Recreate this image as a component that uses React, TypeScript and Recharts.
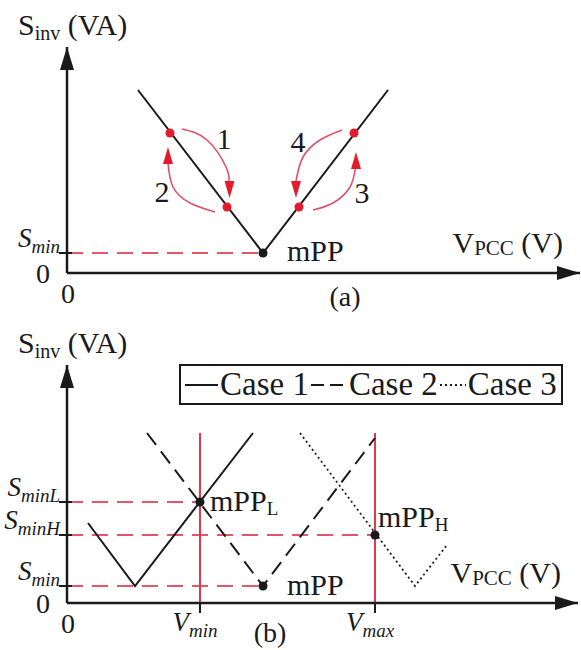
import React from 'react'
import { ComposedChart, Line, Scatter, XAxis, YAxis, Legend } from 'recharts'

const FONT = '"Liberation Serif", "DejaVu Serif", "Noto Serif", "Times New Roman", serif'
const INK = '#1a1a1a'
const RED = '#e31b2c'
const RED_LINE = '#e3384c'
const RED_DASH = '#e4566a'
const RED_ARC = '#e0506a'

// ---------- panel (a) ----------
const xMaxA = 51.3
const yMaxA = 22.6
const sMinA = 2.0
const curveA = [
  { x: 7.1, y: 18.3 },
  { x: 19.6, y: 2.0 },
  { x: 32.1, y: 18.3 },
]
const sMinLineA = [
  { x: 0, y: 2.0 },
  { x: 19.6, y: 2.0 },
]
const mppA = [{ x: 19.6, y: 2.0 }]
const stepPointsA = [
  { x: 10.3, y: 14.0 },
  { x: 16.0, y: 6.6 },
  { x: 23.2, y: 6.6 },
  { x: 28.7, y: 14.0 },
]
const arc1 = [
  { x: 11.5, y: 14.4 },
  { x: 14.0, y: 13.3 },
  { x: 15.9, y: 10.6 },
  { x: 16.2, y: 9.2 },
]
const arc2 = [
  { x: 14.8, y: 6.1 },
  { x: 12.3, y: 7.0 },
  { x: 10.6, y: 8.6 },
  { x: 10.1, y: 11.0 },
]
const arc3 = [
  { x: 24.6, y: 6.3 },
  { x: 26.6, y: 7.0 },
  { x: 28.3, y: 8.6 },
  { x: 28.85, y: 10.6 },
]
const arc4 = [
  { x: 27.5, y: 14.3 },
  { x: 25.3, y: 13.3 },
  { x: 23.6, y: 11.6 },
  { x: 22.9, y: 9.2 },
]
const arcTipsA = [
  { x: 16.25, y: 7.5, dir: 'down' },
  { x: 10.1, y: 12.6, dir: 'up' },
  { x: 28.9, y: 12.1, dir: 'up' },
  { x: 22.9, y: 7.5, dir: 'down' },
]
const stepLabelsA = [
  { x: 15.7, y: 12.4, text: '1' },
  { x: 9.5, y: 7.1, text: '2' },
  { x: 29.5, y: 7.0, text: '3' },
  { x: 23.1, y: 12.1, text: '4' },
]
const pointLabelsA = [{ x: 22.0, y: 1.2, text: 'mPP', sub: '' }]
const yTicksA = [0, sMinA]
const yTickSubsA = ['', 'min']
const xTicksA = [0]
const xTickSubsA = ['']

// ---------- panel (b) ----------
const xMaxB = 51.1
const yMaxB = 23.8
const sMinB = 1.7
const sMinH = 6.8
const sMinL = 10.1
const vMin = 13.3
const vMax = 30.8
const caseNames = ['Case 1', 'Case 2', 'Case 3']
const case1 = [
  { x: 2.1, y: 8.0 },
  { x: 6.8, y: 1.7 },
  { x: 18.6, y: 17.0 },
]
const case2 = [
  { x: 8.0, y: 17.0 },
  { x: 19.6, y: 1.7 },
  { x: 30.8, y: 16.5 },
]
const case3 = [
  { x: 23.3, y: 17.0 },
  { x: 34.8, y: 1.7 },
  { x: 38.0, y: 5.8 },
]
const vMinLine = [
  { x: vMin, y: 0 },
  { x: vMin, y: 17.0 },
]
const vMaxLine = [
  { x: vMax, y: 0 },
  { x: vMax, y: 17.0 },
]
const sMinLLine = [
  { x: 0, y: sMinL },
  { x: vMin, y: sMinL },
]
const sMinHLine = [
  { x: 0, y: sMinH },
  { x: vMax, y: sMinH },
]
const sMinLineB = [
  { x: 0, y: sMinB },
  { x: 19.6, y: sMinB },
]
const mppPointsB = [
  { x: vMin, y: sMinL },
  { x: vMax, y: sMinH },
  { x: 19.6, y: sMinB },
]
const pointLabelsB = [
  { x: 14.3, y: 9.2, text: 'mPP', sub: 'L' },
  { x: 31.1, y: 7.6, text: 'mPP', sub: 'H' },
  { x: 22.0, y: 0.8, text: 'mPP', sub: '' },
]
const yTicksB = [0, sMinB, sMinH, sMinL]
const yTickSubsB = ['', 'min', 'minH', 'minL']
const xTicksB = [0, vMin, vMax]
const xTickSubsB = ['', 'min', 'max']

// ---------- shapes ----------
const axisArrow = (p: any) => {
  const { cx, cy } = p
  const dir = p.payload?.dir
  const L = 23
  const W = 7
  const pts =
    dir === 'up'
      ? `${cx},${cy} ${cx - W},${cy + L} ${cx + W},${cy + L}`
      : `${cx},${cy} ${cx - L},${cy - W} ${cx - L},${cy + W}`
  return <polygon points={pts} fill={INK} />
}

const arcArrow = (p: any) => {
  const { cx, cy } = p
  const dir = p.payload?.dir
  const L = 17
  const W = 5
  const pts =
    dir === 'up'
      ? `${cx},${cy} ${cx - W},${cy + L} ${cx + W},${cy + L}`
      : `${cx},${cy} ${cx - W},${cy - L} ${cx + W},${cy - L}`
  return <polygon points={pts} fill={RED} />
}

const redDot = (p: any) => <circle cx={p.cx} cy={p.cy} r={4.5} fill={RED} />
const blackDot = (p: any) => <circle cx={p.cx} cy={p.cy} r={4.5} fill={INK} />

const textMark = (anchor: 'start' | 'middle') => (p: any) => {
  const d = p.payload || {}
  return (
    <text x={p.cx} y={p.cy} textAnchor={anchor} fontFamily={FONT} fontSize={30} fill={INK}>
      {d.text}
      {d.sub ? (
        <tspan fontSize={19} dy={4}>
          {d.sub}
        </tspan>
      ) : null}
    </text>
  )
}

const makeYTick = (ticks: number[], subs: string[]) => (p: any) => {
  const { x, y, payload } = p
  const i = ticks.indexOf(payload.value)
  if (i < 0) return null
  if (payload.value === 0) {
    return (
      <text x={x - 17} y={y + 10} textAnchor="end" fontFamily={FONT} fontSize={28} fill={INK}>
        0
      </text>
    )
  }
  return (
    <g>
      <line x1={x - 8} x2={x + 5} y1={y} y2={y} stroke={INK} strokeWidth={2} />
      <text x={x - 7} y={y - 6} textAnchor="end" fontFamily={FONT} fontStyle="italic" fontSize={27} fill={INK}>
        S
        <tspan fontSize={19} dy={6}>
          {subs[i]}
        </tspan>
      </text>
    </g>
  )
}

const makeXTick = (ticks: number[], subs: string[]) => (p: any) => {
  const { x, y, payload } = p
  const i = ticks.indexOf(payload.value)
  if (i < 0) return null
  if (payload.value === 0) {
    return (
      <text x={x + 1} y={y + 30} textAnchor="middle" fontFamily={FONT} fontSize={28} fill={INK}>
        0
      </text>
    )
  }
  return (
    <g>
      <line x1={x} x2={x} y1={y} y2={y + 10} stroke={INK} strokeWidth={2} />
      <text x={x - 5} y={y + 28} textAnchor="middle" fontFamily={FONT} fontStyle="italic" fontSize={27} fill={INK}>
        V
        <tspan fontSize={19} dy={6}>
          {subs[i]}
        </tspan>
      </text>
    </g>
  )
}

const yTitle = (p: any) => {
  const vb = p.viewBox || p
  return (
    <text x={vb.x + 11} y={vb.y - 12} fontFamily={FONT} fontSize={30} fill={INK}>
      S
      <tspan fontSize={20} dy={5}>
        inv
      </tspan>
      <tspan dy={-5}>{'\u00a0(VA)'}</tspan>
    </text>
  )
}

const makeXTitle = (tag: string, tagDx: number, tagDy: number) => (p: any) => {
  const vb = p.viewBox || p
  return (
    <g>
      <text x={vb.x + vb.width - 17} y={vb.y - 20} textAnchor="end" fontFamily={FONT} fontSize={30} fill={INK}>
        V
        <tspan fontSize={21} dy={2}>
          PCC
        </tspan>
        <tspan dy={-2}>{'\u00a0(V)'}</tspan>
      </text>
      <text x={vb.x + tagDx} y={vb.y + tagDy} textAnchor="middle" fontFamily={FONT} fontSize={28} fill={INK}>
        {tag}
      </text>
    </g>
  )
}

const sampleWidths = [33, 36, 26]
const sampleDash = ['', '13 6', '2 3']

const caseLegend = (props: any) => {
  const items = (props.payload || []).filter((e: any) => caseNames.includes(e.value))
  return (
    <div
      style={{
        width: 384,
        height: 41,
        border: `2px solid ${INK}`,
        boxSizing: 'border-box',
        display: 'flex',
        alignItems: 'center',
        paddingLeft: 4,
        fontFamily: FONT,
        fontSize: 33,
        lineHeight: 1,
        color: INK,
        whiteSpace: 'nowrap',
        background: '#fff',
      }}
    >
      {items.map((e: any, i: number) => (
        <React.Fragment key={e.value}>
          <svg width={sampleWidths[i]} height={10} style={{ display: 'block' }}>
            <line
              x1={0}
              x2={sampleWidths[i]}
              y1={5}
              y2={5}
              stroke={INK}
              strokeWidth={2}
              strokeDasharray={sampleDash[i] || undefined}
            />
          </svg>
          <span style={{ padding: '0 2px' }}>{e.value}</span>
        </React.Fragment>
      ))}
    </div>
  )
}

const line = (key: string, data: any[], stroke: string, width: number, dash?: string, type: any = 'linear', name?: string) => (
  <Line
    key={key}
    data={data}
    dataKey="y"
    name={name}
    type={type}
    stroke={stroke}
    strokeWidth={width}
    strokeDasharray={dash}
    dot={false}
    activeDot={false}
    isAnimationActive={false}
    legendType={name ? 'line' : 'none'}
  />
)

const scatter = (key: string, data: any[], shape: any) => (
  <Scatter key={key} data={data} dataKey="y" shape={shape} isAnimationActive={false} legendType="none" />
)

function PanelA() {
  return (
    <ComposedChart width={581} height={320} margin={{ top: 47, right: 1, bottom: 0, left: 7 }}>
      <XAxis
        type="number"
        dataKey="x"
        domain={[0, xMaxA]}
        ticks={xTicksA}
        interval={0}
        height={47}
        axisLine={{ stroke: INK, strokeWidth: 2.5 }}
        tickLine={false}
        tickSize={0}
        tickMargin={0}
        tick={makeXTick(xTicksA, xTickSubsA)}
        label={makeXTitle('(a)', 278, 33)}
      />
      <YAxis
        type="number"
        domain={[0, yMaxA]}
        ticks={yTicksA}
        interval={0}
        width={60}
        axisLine={{ stroke: INK, strokeWidth: 2.5 }}
        tickLine={false}
        tickSize={0}
        tickMargin={0}
        tick={makeYTick(yTicksA, yTickSubsA)}
        label={yTitle}
      />
      {line('sminA', sMinLineA, RED_DASH, 2, '16 9')}
      {line('curveA', curveA, INK, 2)}
      {line('arc1', arc1, RED_ARC, 1.6, undefined, 'natural')}
      {line('arc2', arc2, RED_ARC, 1.6, undefined, 'natural')}
      {line('arc3', arc3, RED_ARC, 1.6, undefined, 'natural')}
      {line('arc4', arc4, RED_ARC, 1.6, undefined, 'natural')}
      {scatter('tipsA', arcTipsA, arcArrow)}
      {scatter('stepsA', stepPointsA, redDot)}
      {scatter('mppA', mppA, blackDot)}
      {scatter('xArrowA', [{ x: xMaxA, y: 0, dir: 'right' }], axisArrow)}
      {scatter('yArrowA', [{ x: 0, y: yMaxA, dir: 'up' }], axisArrow)}
      {scatter('stepLabelsA', stepLabelsA, textMark('middle'))}
      {scatter('pointLabelsA', pointLabelsA, textMark('start'))}
    </ComposedChart>
  )
}

function PanelB() {
  return (
    <ComposedChart width={581} height={330} margin={{ top: 45, right: 3, bottom: 0, left: 7 }}>
      <XAxis
        type="number"
        dataKey="x"
        domain={[0, xMaxB]}
        ticks={xTicksB}
        interval={0}
        height={47}
        axisLine={{ stroke: INK, strokeWidth: 2.5 }}
        tickLine={false}
        tickSize={0}
        tickMargin={0}
        tick={makeXTick(xTicksB, xTickSubsB)}
        label={makeXTitle('(b)', 203, 39)}
      />
      <YAxis
        type="number"
        domain={[0, yMaxB]}
        ticks={yTicksB}
        interval={0}
        width={60}
        axisLine={{ stroke: INK, strokeWidth: 2.5 }}
        tickLine={false}
        tickSize={0}
        tickMargin={0}
        tick={makeYTick(yTicksB, yTickSubsB)}
        label={yTitle}
      />
      <Legend
        content={caseLegend}
        layout="horizontal"
        verticalAlign="middle"
        align="center"
        wrapperStyle={{ left: 179, top: 44, width: 384 }}
      />
      {line('sminL', sMinLLine, RED_DASH, 2, '16 9')}
      {line('sminH', sMinHLine, RED_DASH, 2, '16 9')}
      {line('sminB', sMinLineB, RED_DASH, 2, '16 9')}
      {line('vmin', vMinLine, RED_LINE, 2)}
      {line('vmax', vMaxLine, RED_LINE, 2)}
      {line('case1', case1, INK, 2, undefined, 'linear', caseNames[0])}
      {line('case2', case2, INK, 2, '15 8', 'linear', caseNames[1])}
      {line('case3', case3, INK, 1.8, '2 3', 'linear', caseNames[2])}
      {scatter('mppB', mppPointsB, blackDot)}
      {scatter('xArrowB', [{ x: xMaxB, y: 0, dir: 'right' }], axisArrow)}
      {scatter('yArrowB', [{ x: 0, y: yMaxB, dir: 'up' }], axisArrow)}
      {scatter('pointLabelsB', pointLabelsB, textMark('start'))}
    </ComposedChart>
  )
}

export default function App() {
  return (
    <div style={{ position: 'absolute', left: 0, top: 0, width: 581, height: 650, background: '#fff' }}>
      <PanelA />
      <PanelB />
    </div>
  )
}
